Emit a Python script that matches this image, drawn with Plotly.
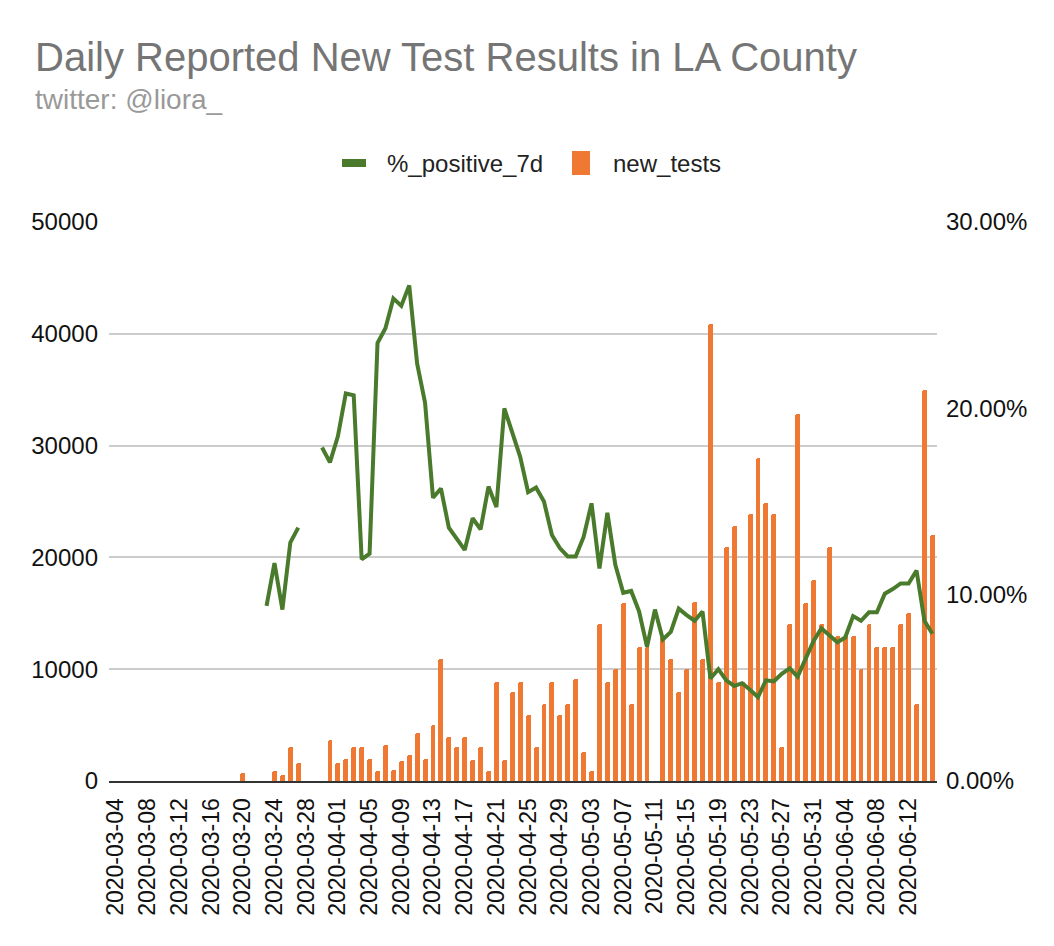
import pandas as pd
import plotly.graph_objects as go

# daily dates 2020-03-04 .. 2020-06-15
dates = pd.date_range("2020-03-04", "2020-06-15", freq="D").strftime("%Y-%m-%d").tolist()

new_tests = [0] * 16 + [
    700, 0, 0, 0, 900, 500, 3000, 1600, 0, 0, 0, 3700,
    1600, 2000, 3000, 3000, 2000, 900, 3200, 1000, 1800, 2300, 4300, 2000,
    5000, 10900, 3900, 3000, 3900, 1900, 3000, 900, 8900, 1900, 8000, 8900,
    5900, 3000, 6900, 8900, 5900, 6900, 9100, 2600, 900, 14000, 8900, 10000,
    15900, 6900, 12000, 12000, 0, 12900, 10900, 8000, 10000, 16000, 10900, 40900,
    8900, 20900, 22800, 8900, 23900, 28900, 24900, 23900, 3000, 14000, 32800, 15900,
    18000, 14000, 20900, 13000, 13000, 13000, 10000, 14000, 12000, 12000, 12000, 14000,
    15000, 6900, 35000, 22000,
]

# 7-day % positive (percent), None where not reported
pct_positive_7d = [None] * 19 + [
    9.4, 11.7, 9.2, 12.8, 13.6, None, None, 17.9, 17.1, 18.5, 20.8,
    20.7, 11.9, 12.2, 23.5, 24.3, 25.9, 25.5, 26.6, 22.4, 20.3, 15.2, 15.7,
    13.6, 13.0, 12.4, 14.1, 13.5, 15.8, 14.7, 20.0, 18.75, 17.4, 15.5, 15.75,
    15.0, 13.2, 12.5, 12.05, 12.05, 13.1, 14.9, 11.4, 14.4, 11.6, 10.1, 10.2,
    9.1, 7.2, 9.2, 7.6, 8.0, 9.25, 8.9, 8.6, 9.1, 5.5, 6.0, 5.4,
    5.1, 5.25, 4.9, 4.5, 5.4, 5.35, 5.75, 6.05, 5.6, 6.55, 7.5, 8.2,
    7.8, 7.45, 7.7, 8.85, 8.6, 9.05, 9.05, 10.05, 10.3, 10.6, 10.6, 11.3,
    8.6, 7.9,
]
pct_frac = [None if v is None else v / 100 for v in pct_positive_7d]

tick_dates = dates[:101:4]

ORANGE = "#ef7832"
GREEN = "#4a7a2b"
FONT = "Liberation Sans, Arial, sans-serif"

# plot area in figure pixels (page adds 8px body margin)
L, R, T, B = 101, 929, 214, 773
PW, PH = R - L, B - T


def px(x):
    return (x - L) / PW


def py(y):
    return (B - y) / PH


fig = go.Figure()

fig.add_trace(go.Scatter(
    x=dates, y=pct_frac, name="%_positive_7d", yaxis="y2",
    mode="lines", line=dict(color=GREEN, width=4), connectgaps=False,
))
fig.add_trace(go.Bar(
    x=dates, y=new_tests, name="new_tests",
    marker=dict(color=ORANGE, line=dict(width=0), cornerradius=3),
    width=0.62 * 86400000,
))

# legend drawn by hand to match the sheet style
leg_y = 155
shapes = [
    dict(type="rect", xref="paper", yref="paper",
         x0=px(334), x1=px(358), y0=py(leg_y + 4), y1=py(leg_y - 4),
         fillcolor=GREEN, line=dict(width=0)),
    dict(type="rect", xref="paper", yref="paper",
         x0=px(564), x1=px(582), y0=py(leg_y + 12), y1=py(leg_y - 12),
         fillcolor=ORANGE, line=dict(width=0)),
]

fig.update_layout(
    width=1054, height=946,
    margin=dict(l=L, r=1054 - R, t=T, b=946 - B),
    paper_bgcolor="white", plot_bgcolor="white",
    font=dict(family=FONT, size=24, color="#222222"),
    showlegend=False,
    bargap=0,
    xaxis=dict(
        type="date",
        range=["2020-03-03 03:00", "2020-06-15 14:00"],
        tickvals=tick_dates, ticktext=tick_dates,
        tickangle=-90, ticks="", showgrid=False,
        showline=True, linecolor="#333333", linewidth=2,
        ticklabelstandoff=6,
        tickfont=dict(size=23, color="#111111"),
    ),
    yaxis=dict(
        range=[0, 50000], tickvals=[0, 10000, 20000, 30000, 40000, 50000],
        tickformat="d", ticks="", showgrid=True, gridcolor="#cccccc", gridwidth=1.5,
        zeroline=False, ticklabelstandoff=10,
        tickfont=dict(size=24, color="#111111"),
    ),
    yaxis2=dict(
        range=[0, 0.30], tickvals=[0, 0.1, 0.2, 0.3], tickformat=".2%",
        overlaying="y", side="right", showgrid=False, zeroline=False, ticks="",
        ticklabelstandoff=8,
        tickfont=dict(size=24, color="#111111"),
    ),
    shapes=shapes,
    annotations=[
        dict(text="Daily Reported New Test Results in LA County", xref="paper", yref="paper",
             x=px(25), y=py(49), xanchor="left", yanchor="middle", showarrow=False,
             font=dict(family=FONT, size=40, color="#757575")),
        dict(text="twitter: @liora_", xref="paper", yref="paper",
             x=px(25), y=py(92), xanchor="left", yanchor="middle", showarrow=False,
             font=dict(family=FONT, size=28, color="#999999")),
        dict(text="%_positive_7d", xref="paper", yref="paper",
             x=px(377), y=py(leg_y), xanchor="left", yanchor="middle", showarrow=False,
             font=dict(family=FONT, size=24, color="#222222")),
        dict(text="new_tests", xref="paper", yref="paper",
             x=px(603), y=py(leg_y), xanchor="left", yanchor="middle", showarrow=False,
             font=dict(family=FONT, size=24, color="#222222")),
    ],
)

fig.write_html("out.html")
